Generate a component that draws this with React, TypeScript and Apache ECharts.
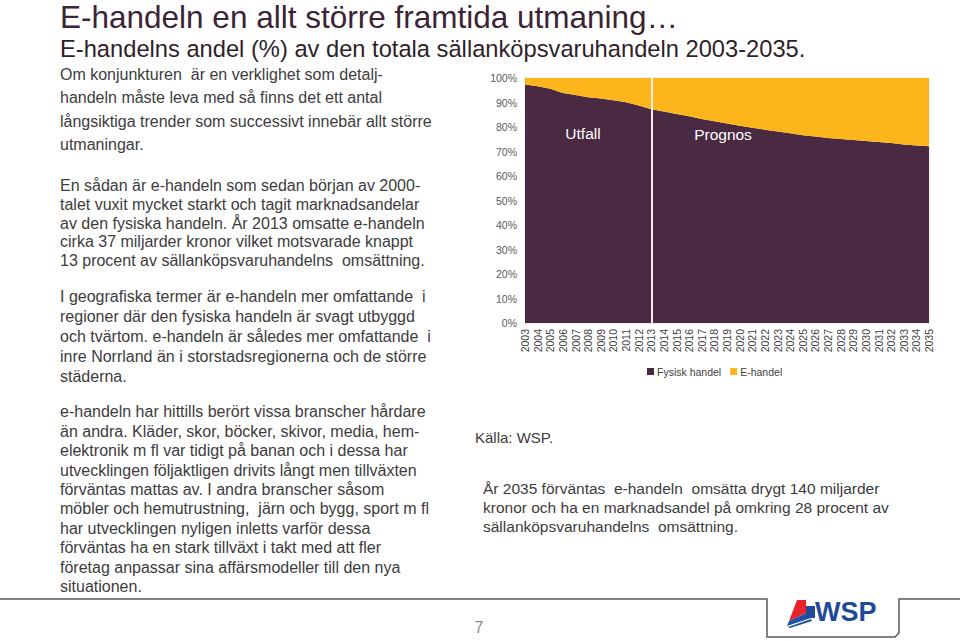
import React, { useEffect, useRef } from "react";
import * as echarts from "echarts";

const years = [
  "2003", "2004", "2005", "2006", "2007", "2008", "2009", "2010", "2011", "2012", "2013",
  "2014", "2015", "2016", "2017", "2018", "2019", "2020", "2021", "2022", "2023", "2024",
  "2025", "2026", "2027", "2028", "2029", "2030", "2031", "2032", "2033", "2034", "2035",
];
const fysiskHandel = [
  97.3, 96.6, 95.6, 93.9, 93.1, 92.1, 91.6, 90.9, 90.1, 88.8, 87.2,
  86.3, 85.3, 84.4, 83.3, 82.3, 81.4, 80.5, 79.7, 78.9, 78.2, 77.4,
  76.6, 76.1, 75.5, 75.1, 74.7, 74.3, 73.9, 73.5, 72.9, 72.5, 72.1,
];
const eHandel = [
  2.7, 3.4, 4.4, 6.1, 6.9, 7.9, 8.4, 9.1, 9.9, 11.2, 12.8,
  13.7, 14.7, 15.6, 16.7, 17.7, 18.6, 19.5, 20.3, 21.1, 21.8, 22.6,
  23.4, 23.9, 24.5, 24.9, 25.3, 25.7, 26.1, 26.5, 27.1, 27.5, 27.9,
];
const seriesNames = ["Fysisk handel", "E-handel"];
const dividerYear = "2013";

const title = "E-handeln en allt större framtida utmaning…";
const subtitle = "E-handelns andel (%) av den totala sällanköpsvaruhandeln 2003-2035.";
const para1 = [
  "Om konjunkturen  är en verklighet som detalj-",
  "handeln måste leva med så finns det ett antal",
  "långsiktiga trender som successivt innebär allt större",
  "utmaningar.",
];
const para2 = [
  "En sådan är e-handeln som sedan början av 2000-",
  "talet vuxit mycket starkt och tagit marknadsandelar",
  "av den fysiska handeln. År 2013 omsatte e-handeln",
  "cirka 37 miljarder kronor vilket motsvarade knappt",
  "13 procent av sällanköpsvaruhandelns  omsättning.",
];
const para3 = [
  "I geografiska termer är e-handeln mer omfattande  i",
  "regioner där den fysiska handeln är svagt utbyggd",
  "och tvärtom. e-handeln är således mer omfattande  i",
  "inre Norrland än i storstadsregionerna och de större",
  "städerna.",
];
const para4 = [
  "e-handeln har hittills berört vissa branscher hårdare",
  "än andra. Kläder, skor, böcker, skivor, media, hem-",
  "elektronik m fl var tidigt på banan och i dessa har",
  "utvecklingen följaktligen drivits långt men tillväxten",
  "förväntas mattas av. I andra branscher såsom",
  "möbler och hemutrustning,  järn och bygg, sport m fl",
  "har utvecklingen nyligen inletts varför dessa",
  "förväntas ha en stark tillväxt i takt med att fler",
  "företag anpassar sina affärsmodeller till den nya",
  "situationen.",
];
const source = "Källa: WSP.";
const para5 = [
  "År 2035 förväntas  e-handeln  omsätta drygt 140 miljarder",
  "kronor och ha en marknadsandel på omkring 28 procent av",
  "sällanköpsvaruhandelns  omsättning.",
];

const FONT = "'Liberation Sans', Arial, sans-serif";
const PURPLE = "#4a2942";
const YELLOW = "#fcb61c";
const BODY = "#3c3c3c";

function textBlock(lines: string[], x: number, y: number, size: number, lh: number, color = BODY) {
  return {
    type: "text",
    x,
    y,
    style: {
      text: lines.join("\n"),
      font: `${size}px ${FONT}`,
      fill: color,
      lineHeight: lh,
      verticalAlign: "top",
      align: "left",
    },
  };
}

export default function App() {
  const ref = useRef<HTMLDivElement>(null);
  useEffect(() => {
    if (!ref.current) return;
    const chart = echarts.init(ref.current, undefined, { renderer: "svg" });
    chart.setOption({
      animation: false,
      backgroundColor: "#ffffff",
      textStyle: { fontFamily: FONT },
      grid: { left: 525, right: 31, top: 78, bottom: 318, show: true, borderColor: "#e2dede", borderWidth: 1, containLabel: false },
      legend: {
        data: seriesNames,
        left: 642,
        top: 361,
        icon: "rect",
        itemWidth: 7,
        itemHeight: 7,
        itemGap: 9,
        textStyle: { fontSize: 10.5, color: "#404040", fontFamily: FONT, padding: [0, 0, 0, -2] },
      },
      xAxis: {
        type: "category",
        data: years,
        boundaryGap: false,
        axisLine: { show: false },
        axisTick: { show: false },
        axisLabel: { rotate: 90, interval: 0, fontSize: 10.5, color: "#404040", margin: 6, fontFamily: FONT },
        splitLine: { show: false },
      },
      yAxis: {
        type: "value",
        min: 0,
        max: 100,
        interval: 10,
        axisLine: { show: false },
        axisTick: { show: false },
        splitLine: { show: false },
        axisLabel: { formatter: "{value}%", fontSize: 10.5, color: "#595959", margin: 8, fontFamily: FONT },
      },
      series: [
        {
          name: seriesNames[0],
          type: "line",
          stack: "total",
          data: fysiskHandel,
          symbol: "none",
          lineStyle: { width: 0 },
          itemStyle: { color: PURPLE },
          areaStyle: { color: PURPLE, opacity: 1 },
        },
        {
          name: seriesNames[1],
          type: "line",
          stack: "total",
          data: eHandel,
          symbol: "none",
          lineStyle: { width: 0 },
          itemStyle: { color: YELLOW },
          areaStyle: { color: YELLOW, opacity: 1 },
          markLine: {
            silent: true,
            symbol: "none",
            label: { show: false },
            lineStyle: { color: "#f4eef2", width: 2, type: "solid" },
            data: [{ xAxis: dividerYear }],
          },
        },
      ],
      graphic: [
        {
          type: "text",
          x: 60,
          y: 1,
          style: { text: title, font: `31.5px ${FONT}`, fill: "#3b2436" },
        },
        {
          type: "text",
          x: 60,
          y: 37,
          style: { text: subtitle, font: `23.7px ${FONT}`, fill: "#2e1f2a" },
        },
        textBlock(para1, 60, 63, 16, 23.3),
        textBlock(para2, 60, 176, 16, 18.8),
        textBlock(para3, 60, 287, 16, 19.8),
        textBlock(para4, 60, 402, 16, 19.45),
        textBlock([source], 475, 428, 15, 18),
        textBlock(para5, 483, 479, 15.5, 19),
        {
          type: "text",
          x: 583,
          y: 133,
          z: 100,
          style: { text: "Utfall", font: `15.5px ${FONT}`, fill: "#ffffff", align: "center", verticalAlign: "middle" },
        },
        {
          type: "text",
          x: 723,
          y: 134,
          z: 100,
          style: { text: "Prognos", font: `15.5px ${FONT}`, fill: "#ffffff", align: "center", verticalAlign: "middle" },
        },
        {
          type: "polyline",
          shape: { points: [[0, 599], [767, 599], [767, 637], [895, 637], [899, 633], [899, 599], [960, 599]] },
          style: { stroke: "#5a5a5a", lineWidth: 1.5, fill: null },
        },
        {
          type: "text",
          x: 479,
          y: 627,
          style: { text: "7", font: `16px ${FONT}`, fill: "#8a8a8a", align: "center", verticalAlign: "middle" },
        },
        {
          type: "polygon",
          shape: { points: [[797, 600], [806, 600], [806, 613], [789, 621]] },
          style: { fill: "#e8232a" },
        },
        {
          type: "polygon",
          shape: { points: [[789, 621], [806, 613], [811, 618], [787, 626]] },
          style: { fill: "#2251a3" },
        },
        {
          type: "polygon",
          shape: { points: [[788, 627], [811, 619], [812, 621], [790, 628]] },
          style: { fill: "#2251a3" },
        },
        {
          type: "rect",
          shape: { x: 806, y: 606, width: 9, height: 12 },
          style: { fill: "#1f4a9c" },
        },
        {
          type: "text",
          x: 815,
          y: 612,
          style: { text: "WSP", font: `bold 27px ${FONT}`, fill: "#1f4a9c", verticalAlign: "middle" },
        },
      ],
    });
    return () => chart.dispose();
  }, []);
  return (
    <div
      ref={ref}
      style={{ position: "absolute", left: 0, top: 0, width: 960, height: 641, background: "#fff" }}
    />
  );
}
